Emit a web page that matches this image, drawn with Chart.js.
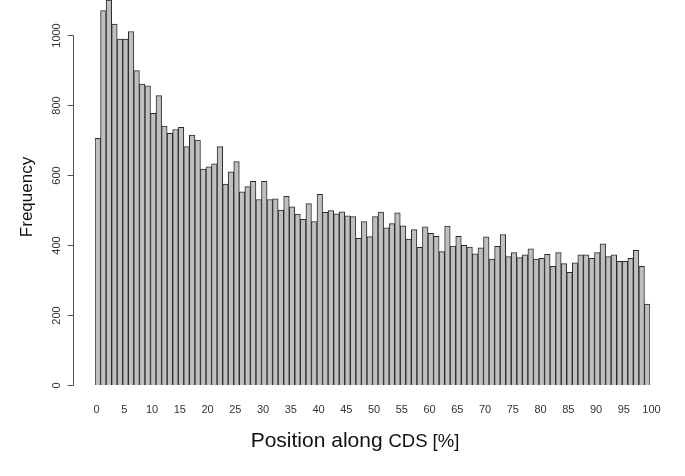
<!DOCTYPE html>
<html>
<head>
<meta charset="utf-8">
<script src="https://cdn.jsdelivr.net/npm/chart.js@4.4.1/dist/chart.umd.min.js"></script>
<style>
html,body{margin:0;padding:0;background:#fff;}
#wrap{width:685px;height:476px;position:relative;}
</style>
</head>
<body>
<div id="wrap"><canvas id="c" width="685" height="476"></canvas></div>
<script>
// Bin start positions (percent along CDS), one bar per 1% bin
const binStarts = Array.from({length: 100}, (_, i) => i);
// Frequency per bin
const frequency = [
  705,1070,1100,1031,988,988,1010,898,860,855,
  776,827,740,719,730,736,681,714,700,617,
  623,632,681,574,609,638,552,567,582,530,
  582,530,532,500,539,509,488,473,518,467,
  545,493,498,489,495,483,481,419,467,424,
  481,494,449,461,492,455,417,444,393,452,
  433,425,381,454,397,425,399,394,375,392,
  423,360,396,430,367,378,364,372,389,360,
  362,373,339,378,347,322,349,372,372,362,
  378,403,367,372,353,353,362,385,339,231
];
const xTickLabels = [0,5,10,15,20,25,30,35,40,45,50,55,60,65,70,75,80,85,90,95,100];
const yTickLabels = [0,200,400,600,800,1000];
const xTitleMain = 'Position along';
const xTitleSmall = 'CDS [%]';
const yTitle = 'Frequency';

const points = binStarts.map((s, i) => ({x: s + 0.5, y: frequency[i]}));

const rAxes = {
  id: 'rAxes',
  afterDraw(chart) {
    const ctx = chart.ctx;
    const xs = chart.scales.x, ys = chart.scales.y;
    ctx.save();
    ctx.strokeStyle = '#555';
    ctx.lineWidth = 1;
    const ax = 73.5;
    ctx.beginPath();
    ctx.moveTo(ax, Math.round(ys.getPixelForValue(yTickLabels[0])) + 0.5);
    ctx.lineTo(ax, Math.round(ys.getPixelForValue(yTickLabels[yTickLabels.length-1])) + 0.5);
    ctx.stroke();
    ctx.fillStyle = '#333';
    ctx.font = '11px "Liberation Sans", Arial, sans-serif';
    yTickLabels.forEach(v => {
      const py = Math.round(ys.getPixelForValue(v)) + 0.5;
      ctx.beginPath();
      ctx.moveTo(ax, py);
      ctx.lineTo(ax - 6, py);
      ctx.stroke();
      ctx.save();
      ctx.translate(57, py);
      ctx.rotate(-Math.PI / 2);
      ctx.textAlign = 'center';
      ctx.textBaseline = 'middle';
      ctx.fillText(String(v), 0, 0);
      ctx.restore();
    });
    ctx.textAlign = 'center';
    ctx.textBaseline = 'middle';
    xTickLabels.forEach(v => {
      ctx.fillText(String(v), xs.getPixelForValue(v) + 1.5, 410);
    });
    // y title
    ctx.fillStyle = '#111';
    ctx.save();
    ctx.translate(27, 197);
    ctx.rotate(-Math.PI / 2);
    ctx.font = '17px "Liberation Sans", Arial, sans-serif';
    ctx.textAlign = 'center';
    ctx.textBaseline = 'middle';
    ctx.fillText(yTitle, 0, 0);
    ctx.restore();
    // x title with two font sizes
    ctx.textBaseline = 'alphabetic';
    ctx.textAlign = 'left';
    const f1 = '21px "Liberation Sans", Arial, sans-serif';
    const f2 = '18.5px "Liberation Sans", Arial, sans-serif';
    ctx.font = f1;
    const w1 = ctx.measureText(xTitleMain + ' ').width;
    ctx.font = f2;
    const w2 = ctx.measureText(xTitleSmall).width;
    const cx = 355;
    const sx = cx - (w1 + w2) / 2;
    ctx.font = f1;
    ctx.fillText(xTitleMain + ' ', sx, 447);
    ctx.font = f2;
    ctx.fillText(xTitleSmall, sx + w1, 447);
    ctx.restore();
  }
};

new Chart(document.getElementById('c'), {
  type: 'bar',
  data: {
    datasets: [{
      data: points,
      backgroundColor: '#bfbfbf',
      borderColor: '#2a2a2a',
      borderWidth: 1,
      barPercentage: 1,
      categoryPercentage: 1
    }]
  },
  options: {
    responsive: false,
    animation: false,
    devicePixelRatio: 1,
    layout: {padding: {left: 95, right: 35, top: 0, bottom: 91}},
    plugins: {legend: {display: false}, tooltip: {enabled: false}},
    scales: {
      x: {type: 'linear', min: 0, max: 100, display: false, offset: false},
      y: {min: 0, max: 1100, display: false}
    }
  },
  plugins: [rAxes]
});
</script>
</body>
</html>
